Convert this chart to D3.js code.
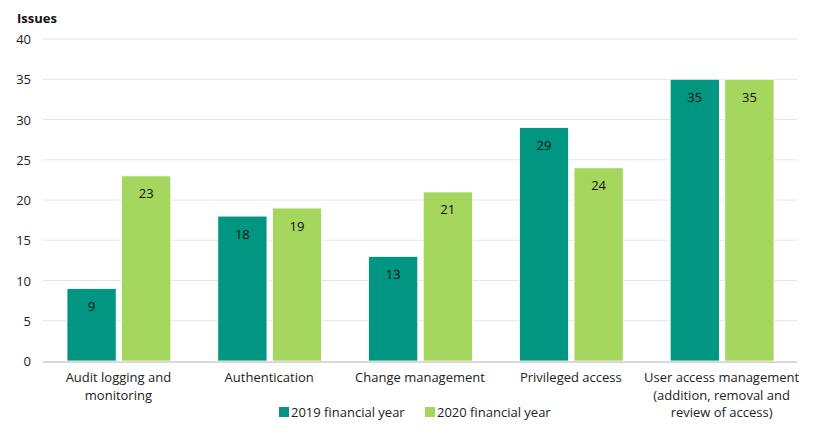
<!DOCTYPE html>
<html><head><meta charset="utf-8">
<script src="https://cdn.jsdelivr.net/npm/d3@7"></script>
<style>body{margin:0;background:#fff;} text{font-family:"Open Sans","Noto Sans",sans-serif;}</style>
</head><body>
<svg id="c" width="820" height="441"></svg>
<script>
const categories = [["Audit logging and","monitoring"],["Authentication"],["Change management"],["Privileged access"],["User access management","(addition, removal and","review of access)"]];
const series2019 = [9,18,13,29,35];
const series2020 = [23,19,21,24,35];
const seriesNames = ["2019 financial year","2020 financial year"];
const yTicks = [0,5,10,15,20,25,30,35,40];
const colors = ["#009681","#a5d65e"];

const svg = d3.select("#c");
const L=43,R=797,T=39,B=361;
const x = d3.scaleBand().domain(d3.range(categories.length)).range([L,R]).paddingInner(0).paddingOuter(0);
const y = d3.scaleLinear().domain([0,40]).range([B,T]);
const x1 = d3.scaleBand().domain([0,1]).range([24,x.bandwidth()-23]).paddingInner(0.1);

svg.append("g").selectAll("line").data(yTicks.filter(d=>d>0)).join("line")
 .attr("x1",L).attr("x2",R).attr("y1",d=>y(d)).attr("y2",d=>y(d))
 .attr("stroke","#e6e6e6").attr("stroke-width",1);
svg.append("g").selectAll("text").data(yTicks).join("text")
 .attr("x",31).attr("y",d=>y(d)+5).attr("text-anchor","end").attr("font-size",13).attr("fill","#222").text(d=>d);
svg.append("text").attr("x",17).attr("y",23).attr("font-size",13).attr("font-weight","bold").attr("fill","#111").text("Issues");

const data = categories.map((c,i)=>({i,vals:[series2019[i],series2020[i]]}));
const g = svg.append("g").selectAll("g").data(data).join("g").attr("transform",d=>`translate(${x(d.i)},0)`);
g.selectAll("rect").data(d=>d.vals.map((v,k)=>({v,k}))).join("rect")
 .attr("x",d=>x1(d.k)).attr("width",x1.bandwidth()).attr("y",d=>y(d.v)).attr("height",d=>B-y(d.v))
 .attr("fill",d=>colors[d.k]).attr("stroke","#fff").attr("stroke-width",0.8);
g.selectAll("text.v").data(d=>d.vals.map((v,k)=>({v,k}))).join("text").attr("class","v")
 .attr("x",d=>x1(d.k)+x1.bandwidth()/2).attr("y",d=>y(d.v)+22.5).attr("text-anchor","middle")
 .attr("font-size",13).attr("fill","#111").text(d=>d.v);

svg.append("line").attr("x1",L).attr("x2",R).attr("y1",B+1).attr("y2",B+1).attr("stroke","#d9d9d9").attr("stroke-width",2);

const xl = svg.append("g").selectAll("text").data(categories).join("text")
 .attr("x",(d,i)=>x(i)+x.bandwidth()/2).attr("text-anchor","middle").attr("font-size",13).attr("fill","#222");
xl.each(function(d){ d3.select(this).selectAll("tspan").data(d).join("tspan")
 .attr("x",d3.select(this).attr("x")).attr("y",(t,j)=>382+j*17.5).text(t=>t);});

const lg = [{x:279},{x:425}];
seriesNames.forEach((n,k)=>{
 svg.append("rect").attr("x",lg[k].x).attr("y",407).attr("width",10).attr("height",10).attr("fill",colors[k]);
 svg.append("text").attr("x",lg[k].x+12).attr("y",417).attr("font-size",13).attr("fill","#222").text(n);
});
</script>
</body></html>
